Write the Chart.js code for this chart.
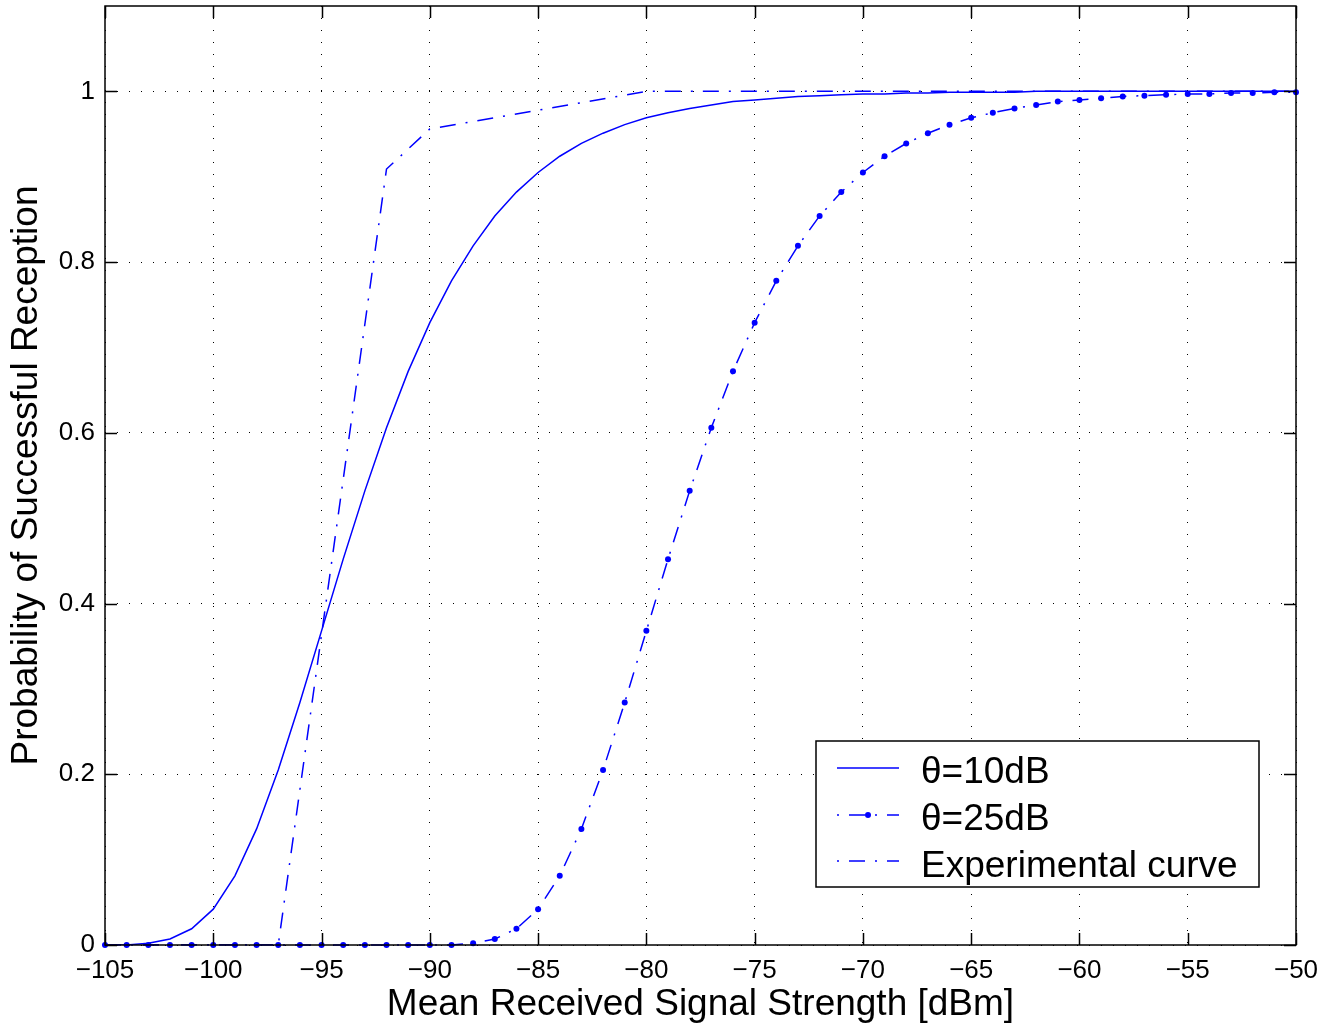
<!DOCTYPE html>
<html>
<head>
<meta charset="utf-8">
<script src="https://cdn.jsdelivr.net/npm/chart.js@4.4.1/dist/chart.umd.min.js"></script>
<style>
  html, body { margin: 0; padding: 0; background: #fff; }
  #wrap { width: 1333px; height: 1029px; }
</style>
</head>
<body>
<div id="wrap"><canvas id="chart" width="1333" height="1029"></canvas></div>
<script>
// x positions (dBm) of the model curves, one per dB
const signalDbm = [
  -105, -104, -103, -102, -101, -100, -99, -98, -97, -96,
  -95, -94, -93, -92, -91, -90, -89, -88, -87, -86,
  -85, -84, -83, -82, -81, -80, -79, -78, -77, -76,
  -75, -74, -73, -72, -71, -70, -69, -68, -67, -66,
  -65, -64, -63, -62, -61, -60, -59, -58, -57, -56,
  -55, -54, -53, -52, -51, -50
];

// theta = 10 dB (solid)
const theta10 = [
  0, 0, 0.002, 0.007, 0.019, 0.042, 0.081, 0.136, 0.205, 0.284,
  0.368, 0.452, 0.532, 0.606, 0.672, 0.729, 0.778, 0.819, 0.854, 0.882,
  0.905, 0.924, 0.939, 0.951, 0.961, 0.969, 0.975, 0.980, 0.984, 0.988,
  0.990, 0.992, 0.994, 0.995, 0.996, 0.997, 0.997, 0.998, 0.998, 0.999,
  0.999, 0.999, 0.999, 1, 1, 1, 1, 1, 1, 1,
  1, 1, 1, 1, 1, 1
];

// theta = 25 dB (dash-dot with dots)
const theta25 = [
  0, 0, 0, 0, 0, 0, 0, 0, 0, 0,
  0, 0, 0, 0, 0, 0, 0, 0.002, 0.007, 0.019,
  0.042, 0.081, 0.136, 0.205, 0.284, 0.368, 0.452, 0.532, 0.606, 0.672,
  0.729, 0.778, 0.819, 0.854, 0.882, 0.905, 0.924, 0.939, 0.951, 0.961,
  0.969, 0.975, 0.980, 0.984, 0.988, 0.990, 0.992, 0.994, 0.995, 0.996,
  0.997, 0.997, 0.998, 0.998, 0.999, 0.999
];

// experimental curve (dash-dot, no markers)
const expDbm = [-105, -97, -92, -90, -80, -50];
const expProb = [0, 0, 0.909, 0.956, 1, 1];

const xTickValues = [-105, -100, -95, -90, -85, -80, -75, -70, -65, -60, -55, -50];
const xTickLabels = ['\u2212105', '\u2212100', '\u221295', '\u221290', '\u221285', '\u221280',
                     '\u221275', '\u221270', '\u221265', '\u221260', '\u221255', '\u221250'];
const yTickValues = [0, 0.2, 0.4, 0.6, 0.8, 1];
const yTickLabels = ['0', '0.2', '0.4', '0.6', '0.8', '1'];

const seriesLabels = ['\u03b8=10dB', '\u03b8=25dB', 'Experimental curve'];

const BLUE = '#0000ff';
const FONT = "'Liberation Sans', Arial, Helvetica, sans-serif";
const DASH_DOT = [16, 10, 2, 10];
const TICK = 12;

function toXY(xs, ys) {
  return xs.map((x, i) => ({ x: x, y: ys[i] }));
}

// matlab style box, inward ticks and legend
const matlabAxes = {
  id: 'matlabAxes',
  afterDraw(chart) {
    const { ctx, chartArea: a, scales } = chart;
    const sx = scales.x, sy = scales.y;
    ctx.save();
    ctx.setLineDash([]);
    ctx.strokeStyle = '#000';
    ctx.lineWidth = 1.5;
    ctx.strokeRect(a.left, a.top, a.right - a.left, a.bottom - a.top);

    ctx.beginPath();
    xTickValues.forEach(v => {
      const px = Math.round(sx.getPixelForValue(v)) + 0.5;
      ctx.moveTo(px, a.bottom); ctx.lineTo(px, a.bottom - TICK);
      ctx.moveTo(px, a.top); ctx.lineTo(px, a.top + TICK);
    });
    yTickValues.forEach(v => {
      const py = Math.round(sy.getPixelForValue(v)) + 0.5;
      ctx.moveTo(a.left, py); ctx.lineTo(a.left + TICK, py);
      ctx.moveTo(a.right, py); ctx.lineTo(a.right - TICK, py);
    });
    ctx.stroke();

    // legend
    const box = { x: 816, y: 741, w: 443, h: 146 };
    ctx.fillStyle = '#fff';
    ctx.fillRect(box.x, box.y, box.w, box.h);
    ctx.lineWidth = 1.5;
    ctx.strokeRect(box.x, box.y, box.w, box.h);

    const rowLine = [768, 815, 861];
    const rowBase = [783, 830, 877];
    chart.data.datasets.forEach((ds, i) => {
      ctx.strokeStyle = ds.borderColor;
      ctx.lineWidth = ds.borderWidth;
      ctx.setLineDash(ds.borderDash || []);
      ctx.lineDashOffset = ds.borderDash ? 26 : 0;
      ctx.beginPath();
      ctx.moveTo(837, rowLine[i]);
      ctx.lineTo(899, rowLine[i]);
      ctx.stroke();
      ctx.setLineDash([]);
      if (ds.pointRadius > 0) {
        ctx.fillStyle = ds.pointBackgroundColor;
        ctx.beginPath();
        ctx.arc(868, rowLine[i], ds.pointRadius, 0, Math.PI * 2);
        ctx.fill();
      }
      ctx.fillStyle = '#000';
      ctx.font = '37px ' + FONT;
      ctx.textAlign = 'left';
      ctx.textBaseline = 'alphabetic';
      ctx.fillText(ds.label, 921, rowBase[i]);
    });
    ctx.restore();
  }
};

new Chart(document.getElementById('chart'), {
  type: 'line',
  data: {
    datasets: [
      {
        label: seriesLabels[0],
        data: toXY(signalDbm, theta10),
        borderColor: BLUE,
        borderWidth: 1.5,
        pointRadius: 0,
        tension: 0,
        fill: false
      },
      {
        label: seriesLabels[1],
        data: toXY(signalDbm, theta25),
        borderColor: BLUE,
        backgroundColor: BLUE,
        pointBackgroundColor: BLUE,
        pointBorderColor: BLUE,
        borderWidth: 1.5,
        borderDash: DASH_DOT,
        pointRadius: 3,
        pointBorderWidth: 0,
        tension: 0,
        fill: false,
        clip: false
      },
      {
        label: seriesLabels[2],
        data: toXY(expDbm, expProb),
        borderColor: BLUE,
        borderWidth: 1.5,
        borderDash: DASH_DOT,
        pointRadius: 0,
        tension: 0,
        fill: false
      }
    ]
  },
  options: {
    responsive: false,
    animation: false,
    layout: { padding: { top: 6, right: 37, left: 0, bottom: 0 } },
    plugins: { legend: { display: false }, tooltip: { enabled: false } },
    scales: {
      x: {
        type: 'linear',
        min: -105,
        max: -50,
        afterBuildTicks: s => { s.ticks = xTickValues.map(v => ({ value: v })); },
        afterFit: s => { s.height = 84; s.paddingLeft = 0; s.paddingRight = 0; },
        grid: { color: '#000', lineWidth: 1, drawTicks: false },
        border: { display: false, dash: [1, 11] },
        ticks: {
          padding: 10,
          color: '#000',
          font: { family: FONT, size: 26 },
          maxRotation: 0,
          autoSkip: false,
          callback: (v, i) => xTickLabels[i]
        },
        title: {
          display: true,
          text: 'Mean Received Signal Strength [dBm]',
          color: '#000',
          font: { family: FONT, size: 37 },
          padding: { top: 0, bottom: 2 }
        }
      },
      y: {
        type: 'linear',
        min: 0,
        max: 1.1,
        afterBuildTicks: s => { s.ticks = yTickValues.map(v => ({ value: v })); },
        afterFit: s => { s.width = 105; s.paddingTop = 0; s.paddingBottom = 0; },
        grid: { color: '#000', lineWidth: 1, drawTicks: false },
        border: { display: false, dash: [1, 11] },
        ticks: {
          padding: 10,
          color: '#000',
          font: { family: FONT, size: 26 },
          callback: (v, i) => yTickLabels[i]
        },
        title: {
          display: true,
          text: 'Probability of Successful Reception',
          color: '#000',
          font: { family: FONT, size: 37 },
          padding: { top: 5, bottom: 0 }
        }
      }
    }
  },
  plugins: [matlabAxes]
});
</script>
</body>
</html>
